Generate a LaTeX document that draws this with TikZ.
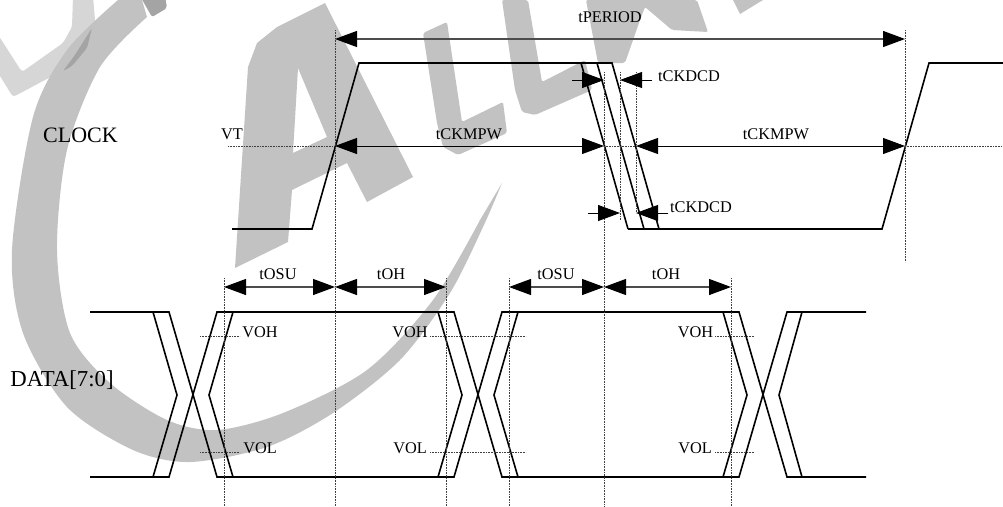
\documentclass[tikz,border=0pt]{standalone}
\usepackage{fontspec}
\setmainfont{Liberation Serif}
\usepackage{tikz}
\usetikzlibrary{arrows.meta}
\definecolor{wmarkgray}{HTML}{C2C2C2}
\definecolor{wmarklite}{HTML}{D6D6D6}
\definecolor{wmarkdark}{HTML}{A4A4A4}
\tikzstyle{wmark}=[fill=wmarkgray,draw=none]
\tikzstyle{wmarklight}=[fill=wmarklite,draw=none,rounded corners=3pt]
\tikzstyle{wmarkover}=[fill=wmarkdark,draw=none,rounded corners=2pt]
\tikzstyle{wave}=[black,line width=1.6pt,line join=miter]
\tikzstyle{guide}=[black!75,line width=.6pt,dash pattern=on .8pt off .8pt]
\tikzstyle{dimline}=[<->,black!70,line width=1.1pt]
\tikzstyle{pulse}=[<->,black,line width=.9pt]
\tikzstyle{mdim}=[->,black,line width=.9pt]
\tikzstyle{big}=[inner sep=0pt,anchor=base,font=\fontsize{22}{24}\selectfont]
\tikzstyle{small}=[inner sep=0pt,anchor=base,font=\fontsize{16.3}{18}\selectfont]

\begin{document}
\begin{tikzpicture}[x=1pt,y=-1pt,>={Triangle[length=22pt,width=16pt,color=black]}]

	\useasboundingbox (0,0) rectangle (1003,506);

	% watermark
	\fill [wmarklight] (73,-4) -- (72,27) -- (63,43) -- (22,72) -- (-5,30) -- (-5,68) -- (13,97) -- (77,63) -- (92,40) -- (95,20) -- (93,-4) -- cycle;
	\fill [wmark] plot [smooth] coordinates {(118,0) (67,50) (33,117) (12,250) (23,333) (67,407) (133,450) (190,462) (267,447) (333,413) (400,360) (450,293) (483,227) (502,183)}
		-- plot [smooth] coordinates {(480,220) (433,300) (367,370) (283,413) (217,430) (167,420) (110,383) (70,333) (57,250) (67,150) (100,67) (147,17)} -- (142,0) -- cycle;
	\fill [wmarkover] (92,28) -- (87,48) -- (72,66) -- (63,71) -- (75,55) -- cycle;
	\fill [wmarkover] (140,-4) -- (152,17) -- (167,8) -- (165,-4) -- cycle;
	\fill [wmark] (325,3) -- (413,177) -- (367,202) -- (347,163) -- (292,190) -- (288,242) -- (235,268) -- (248,67) -- (257,43) -- (277,27) -- cycle
		(298,68) -- (293,153) -- (327,137) -- cycle;
	\fill [wmark,rounded corners=2pt] (423,33) -- (447,22) -- (462,122) -- (503,102) -- (507,133) -- (458,155) -- (443,147) -- (437,123) -- cycle;
	\fill [wmark,rounded corners=2pt] (502,0) -- (528,0) -- (542,82) -- (585,60) -- (592,90) -- (535,115) -- (522,112) -- (515,90) -- cycle;
	\fill [wmark,rounded corners=2pt] (586,0) -- (598,63) -- (625,63) -- (640,20) -- (645,7) -- (672,30) -- (708,32) -- (697,0) -- cycle;
	\fill [wmark] (733,0) -- (740,14) -- (763,0) -- cycle;

	% free ends
	\coordinate (p1) at (335,30);
	\coordinate (p1m) at (335,146);
	\coordinate (p1d) at (335,287);
	\coordinate (p1b) at (335,506);
	\coordinate (p2) at (905,30);
	\coordinate (p2m) at (905,146);
	\coordinate (p2b) at (905,262);
	\coordinate (c1) at (604,72);
	\coordinate (c1m) at (604,146);
	\coordinate (c1d) at (604,287);
	\coordinate (c1b) at (604,506);
	\coordinate (c2) at (620,72);
	\coordinate (c2b) at (620,220);
	\coordinate (c3) at (636,72);
	\coordinate (c3m) at (636,146);
	\coordinate (c3b) at (636,212);
	\coordinate (d1) at (224,278);
	\coordinate (d1m) at (224,287);
	\coordinate (d1b) at (224,506);
	\coordinate (d2) at (446,278);
	\coordinate (d2m) at (446,287);
	\coordinate (d2b) at (446,506);
	\coordinate (d3) at (509,278);
	\coordinate (d3m) at (509,287);
	\coordinate (d3b) at (509,506);
	\coordinate (d4) at (731,278);
	\coordinate (d4m) at (731,287);
	\coordinate (d4b) at (731,506);

	% waves
	\draw [wave] (232,229) -- (312,229) -- (359,63) -- (612,63) -- (659,229) -- (628,229) -- (882,229) -- (929,63) -- (1003,63);
	\draw [wave] (581,63) -- (628,229);
	\draw [wave] (597,63) -- (644,229);

	\draw [wave] (90,312) -- (169,312) -- (217,477) -- (454,477) -- (502,312) -- (739,312) -- (787,477) -- (866,477);
	\draw [wave] (90,477) -- (169,477) -- (217,312) -- (454,312) -- (502,477) -- (739,477) -- (787,312) -- (866,312);
	\draw [wave] (153,312) -- (177,395) -- (153,477);
	\draw [wave] (233,312) -- (209,395) -- (233,477);
	\draw [wave] (438,312) -- (462,395) -- (438,477);
	\draw [wave] (518,312) -- (494,395) -- (518,477);
	\draw [wave] (723,312) -- (747,395) -- (723,477);
	\draw [wave] (802,312) -- (779,395) -- (802,477);

	% guides
	\draw [guide] (p1) -- (p1b);
	\draw [guide] (p2) -- (p2b);
	\draw [guide] (c1) -- (c1b);
	\draw [guide] (c2) -- (c2b);
	\draw [guide] (c3) -- (c3b);
	\draw [guide] (d1) -- (d1b);
	\draw [guide] (d2) -- (d2b);
	\draw [guide] (d3) -- (d3b);
	\draw [guide] (d4) -- (d4b);
	\draw [guide] (228,146) -- (p1m);
	\draw [guide] (c1m) -- (c3m);
	\draw [guide] (p2m) -- (1003,146);
	\draw [guide] (200,336) -- (240,336);
	\draw [guide] (200,452) -- (240,452);
	\draw [guide] (430,336) -- (526,336);
	\draw [guide] (430,452) -- (526,452);
	\draw [guide] (715,336) -- (754,336);
	\draw [guide] (715,452) -- (754,452);

	% dimensions
	\draw [dimline] (335,39) -- (905,39);
	\draw [pulse] (p1m) -- (c1m);
	\draw [pulse] (c3m) -- (p2m);
	\draw [dimline] (d1m) -- (p1d);
	\draw [dimline] (p1d) -- (d2m);
	\draw [dimline] (d3m) -- (c1d);
	\draw [dimline] (c1d) -- (d4m);
	\coordinate (k1) at (572,80);
	\coordinate (k2) at (652,80);
	\coordinate (k3) at (588,213);
	\coordinate (k4) at (668,213);
	\draw [mdim] (k1) -- (604,80);
	\draw [mdim] (k2) -- (620,80);
	\draw [mdim] (k3) -- (620,213);
	\draw [mdim] (k4) -- (636,213);

	% labels
	\node [big] (clock) at (80.5,142) {CLOCK};
	\node [big,font=\fontsize{22.8}{24}\selectfont] (data) at (62,386) {DATA[7:0]};
	\node [small] (vt) at (232,139) {VT};
	\node [small] (tperiod) at (610,23) {tPERIOD};
	\node [small] (tpwa) at (469,139) {tCKMPW};
	\node [small] (tpwb) at (776,139) {tCKMPW};
	\node [small] (tdca) at (689,81) {tCKDCD};
	\node [small] (tdcb) at (701,212) {tCKDCD};
	\node [small] (tosua) at (278,279) {tOSU};
	\node [small] (toha) at (391,279) {tOH};
	\node [small] (tosub) at (556,279) {tOSU};
	\node [small] (tohb) at (666,279) {tOH};
	\node [small] (voha) at (260,337) {VOH};
	\node [small] (vola) at (260,453) {VOL};
	\node [small] (vohb) at (410,337) {VOH};
	\node [small] (volb) at (410,453) {VOL};
	\node [small] (vohc) at (695.5,337) {VOH};
	\node [small] (volc) at (695,453) {VOL};

\end{tikzpicture}
\end{document}
